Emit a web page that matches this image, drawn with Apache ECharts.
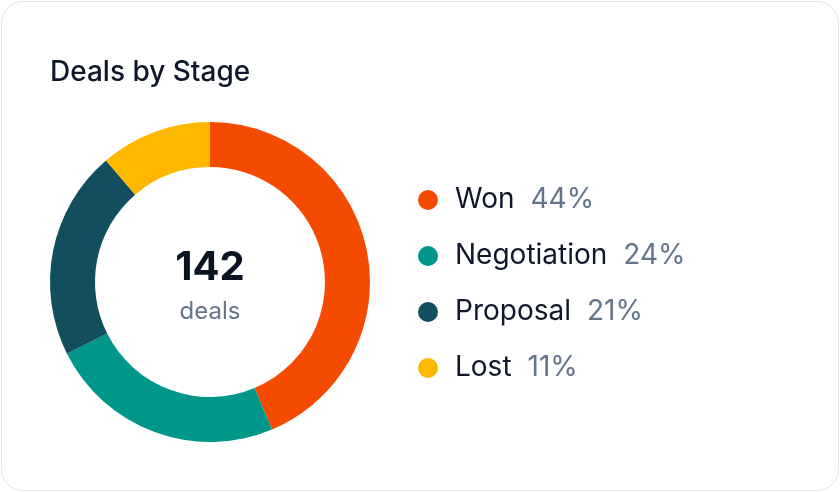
<!DOCTYPE html>
<html>
<head>
<meta charset="utf-8">
<script src="https://cdn.jsdelivr.net/npm/echarts@6/dist/echarts.min.js"></script>
<style>
  html, body { margin: 0; padding: 0; background: #ffffff; }
  #card { position: absolute; left: 1px; top: 1px; width: 836px; height: 488px; border: 1px solid #e6e6e6; border-radius: 22px; background: #ffffff; box-sizing: content-box; }
  #chart { position: absolute; left: 0; top: 0; width: 840px; height: 492px; }
</style>
</head>
<body>
<div id="card"></div>
<div id="chart"></div>
<script>
const titleText = 'Deals by Stage';
const categories = ['Won', 'Negotiation', 'Proposal', 'Lost'];
const values = [62, 34, 30, 16];
const colors = ['#F54B00', '#00968A', '#134E5F', '#FFB800'];
const centerLabel = 'deals';

const total = values.reduce((a, b) => a + b, 0);
const FONT = 'Inter, "Noto Sans", sans-serif';
const CX = 210, CY = 282;

const chart = echarts.init(document.getElementById('chart'), null, { renderer: 'canvas' });
chart.setOption({
  animation: false,
  backgroundColor: 'transparent',
  color: colors,
  title: {
    text: titleText,
    left: 45,
    top: 54,
    textStyle: { fontFamily: FONT, fontSize: 28, fontWeight: 500, color: '#0f172a' }
  },
  legend: {
    orient: 'vertical',
    left: 413,
    top: 181,
    icon: 'circle',
    itemWidth: 20,
    itemHeight: 20,
    itemGap: 28,
    selectedMode: false,
    formatter: function (name) {
      const i = categories.indexOf(name);
      const pct = Math.round(values[i] / total * 100);
      return '{n|' + name + '}{p|' + pct + '%}';
    },
    textStyle: {
      fontFamily: FONT,
      rich: {
        n: { fontFamily: FONT, fontSize: 28, lineHeight: 28, color: '#0f172a', padding: [0, 16, 0, 12] },
        p: { fontFamily: FONT, fontSize: 28, lineHeight: 28, color: '#64748b' }
      }
    }
  },
  graphic: [
    {
      type: 'text', x: CX, y: CY - 14.5, silent: true,
      style: { text: String(total), align: 'center', verticalAlign: 'middle', font: '700 40px ' + FONT, fill: '#0b1222' }
    },
    {
      type: 'text', x: CX, y: CY + 30, silent: true,
      style: { text: centerLabel, align: 'center', verticalAlign: 'middle', font: '400 24px ' + FONT, fill: '#64748b' }
    }
  ],
  series: [{
    type: 'pie',
    center: [CX, CY],
    radius: [115, 160],
    startAngle: 90,
    clockwise: true,
    label: { show: false },
    labelLine: { show: false },
    emphasis: { disabled: true },
    itemStyle: { borderWidth: 0 },
    data: categories.map((c, i) => ({ name: c, value: values[i] }))
  }]
});
</script>
</body>
</html>
